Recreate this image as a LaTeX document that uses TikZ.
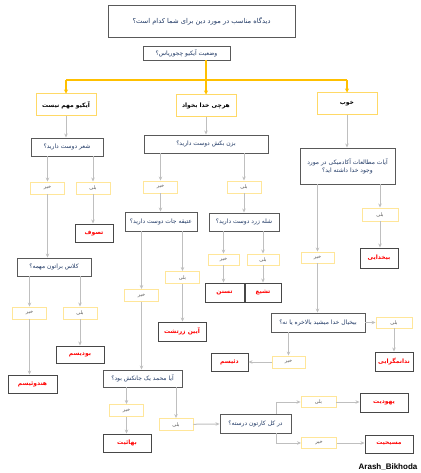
\documentclass[tikz,border=0pt]{standalone}
\usepackage{fontspec}
\usetikzlibrary{arrows.meta,positioning}
\TeXXeTstate=1
\newfontfamily\fafont[Script=Arabic]{DejaVu Sans}
\setsansfont{Liberation Sans}
\newcommand{\fatxt}[1]{\beginR #1\endR}
\definecolor{qnavy}{RGB}{31,56,100}
\definecolor{qborder}{RGB}{89,89,89}
\definecolor{ynborder}{RGB}{255,230,153}
\definecolor{brborder}{RGB}{255,217,102}
\definecolor{linegray}{RGB}{191,191,191}
\definecolor{brorange}{RGB}{255,192,0}

\begin{document}
\begin{tikzpicture}[x=1pt,y=-1pt,
    sz/.style 2 args={minimum width=#1,minimum height=#2},
    question/.style={draw=qborder,line width=0.9pt,fill=white,text=qnavy,inner sep=1pt,
        align=center,font=\fafont\fontsize{6}{8}\selectfont},
    branch/.style={draw=brborder,line width=1pt,fill=white,text=black,inner sep=1pt,
        font=\fafont\bfseries\fontsize{6}{8}\selectfont},
    yesno/.style={draw=ynborder,line width=0.9pt,fill=white,text=qborder,inner sep=1pt,
        sz={34}{12},font=\fafont\fontsize{5}{6}\selectfont},
    answer/.style={draw=qborder!80!black,line width=0.9pt,fill=white,text=red,inner sep=1pt,
        font=\fafont\bfseries\fontsize{6}{8}\selectfont},
    link/.style={draw=linegray,line width=1pt,-{Stealth[length=4pt,width=3.5pt]}},
    orangelink/.style={draw=brorange,line width=1.2pt,-{Stealth[length=4pt,width=4pt]}}]
  \useasboundingbox (0,0) rectangle (420,473);

  % title and first question
  \node[question,sz={187}{32},font=\fafont\fontsize{6.7}{8}\selectfont] (title) at (201.5,21) {\fatxt{دیدگاه مناسب در مورد دین برای شما کدام است؟}};
  \node[question,sz={87}{14}] (iq) at (186.5,53) {\fatxt{وضعیت آیکیو چجوریاس؟}};

  % three branches
  \node[branch,sz={60}{22}] (dontcare) at (66,105) {\fatxt{آیکیو مهم نیست}};
  \node[branch,sz={60}{22}] (godwills) at (206,106) {\fatxt{هرچی خدا بخواد}};
  \node[branch,sz={60}{22}] (good) at (347,104) {\fatxt{خوب}};
  \coordinate (fork) at (206,80);
  \draw[orangelink,-] (fork -| dontcare) -- (fork -| good);
  \draw[orangelink] (iq.south -| godwills) -- (godwills.north);
  \draw[orangelink] (fork -| dontcare) -- (dontcare.north);
  \draw[orangelink] (fork -| good) -- (good.north);

  % left column
  \node[question,sz={72}{18}] (poetry) at (67,147) {\fatxt{شعر دوست دارید؟}};
  \node[yesno] (poetryno) at (47.5,188) {\fatxt{خیر}};
  \node[yesno] (poetryyes) at (93,188) {\fatxt{بلی}};
  \node[answer,sz={38}{18}] (sufism) at (94,233) {\fatxt{تصوف}};
  \node[question,sz={74}{18}] (class) at (54,267) {\fatxt{کلاس براتون مهمه؟}};
  \node[yesno] (classno) at (29.5,313) {\fatxt{خیر}};
  \node[yesno] (classyes) at (80,313) {\fatxt{بلی}};
  \node[answer,sz={48}{17}] (buddhism) at (80,354.5) {\fatxt{بودیسم}};
  \node[answer,sz={49}{18}] (hinduism) at (32.5,384) {\fatxt{هندوئیسم}};

  \draw[link] (dontcare) -- (dontcare |- poetry.north);
  \draw[link] (poetry.south -| poetryno) -- (poetryno);
  \draw[link] (poetry.south -| poetryyes) -- (poetryyes);
  \draw[link] (poetryyes) -- (poetryyes |- sufism.north);
  \draw[link] (poetryno) -- (poetryno |- class.north);
  \draw[link] (class.south -| classno) -- (classno);
  \draw[link] (class.south -| classyes) -- (classyes);
  \draw[link] (classyes) -- (buddhism);
  \draw[link] (classno) -- (classno |- hinduism.north);

  % middle column
  \node[question,sz={124}{18}] (fight) at (206,144) {\fatxt{بزن بکش دوست دارید؟}};
  \node[yesno] (fightno) at (160.5,187) {\fatxt{خیر}};
  \node[yesno] (fightyes) at (244,187) {\fatxt{بلی}};
  \node[question,sz={72}{19}] (antique) at (161,221.5) {\fatxt{عتیقه جات دوست دارید؟}};
  \node[question,sz={70}{18}] (sholeh) at (244,222) {\fatxt{شله زرد دوست دارید؟}};
  \node[yesno] (antiqueyes) at (182.5,277.5) {\fatxt{بلی}};
  \node[yesno] (antiqueno) at (141.5,295.5) {\fatxt{خیر}};
  \node[answer,sz={48}{19}] (zoroaster) at (182,331.5) {\fatxt{آیین زرتشت}};
  \node[yesno,sz={31}{11}] (sholehno) at (223.5,259.5) {\fatxt{خیر}};
  \node[yesno,sz={32}{11}] (sholehyes) at (263,259.5) {\fatxt{بلی}};
  \node[answer,sz={39}{19}] (sunni) at (224.5,292.5) {\fatxt{تسنن}};
  \node[answer,sz={36}{19}] (shia) at (263,292.5) {\fatxt{تشیع}};

  \draw[link] (godwills) -- (godwills |- fight.north);
  \draw[link] (fight.south -| fightno) -- (fightno);
  \draw[link] (fight.south -| fightyes) -- (fightyes);
  \draw[link] (fightno) -- (fightno |- antique.north);
  \draw[link] (fightyes) -- (fightyes |- sholeh.north);
  \draw[link] (antique.south -| antiqueyes) -- (antiqueyes);
  \draw[link] (antique.south -| antiqueno) -- (antiqueno);
  \draw[link] (antiqueyes) -- (antiqueyes |- zoroaster.north);
  \draw[link] (sholeh.south -| sholehno) -- (sholehno);
  \draw[link] (sholeh.south -| sholehyes) -- (sholehyes);
  \draw[link] (sholehno) -- (sholehno |- sunni.north);
  \draw[link] (sholehyes) -- (sholehyes |- shia.north);

  % bottom middle
  \node[question,sz={79}{17}] (muhammad) at (142.5,378.5) {\fatxt{آیا محمد یک جانکش بود؟}};
  \node[yesno] (muhammadno) at (126.5,410.5) {\fatxt{خیر}};
  \node[answer,sz={48}{18}] (bahai) at (127,443) {\fatxt{بهائیت}};
  \node[yesno] (muhammadyes) at (176,424.5) {\fatxt{بلی}};
  \node[question,sz={71}{19}] (right) at (255.5,423.5) {\fatxt{در کل کارتون درسته؟}};
  \node[yesno,sz={35}{11}] (rightyes) at (318.5,402) {\fatxt{بلی}};
  \node[yesno,sz={35}{11}] (rightno) at (319,443) {\fatxt{خیر}};
  \node[answer,sz={48}{19}] (judaism) at (384,402.5) {\fatxt{یهودیت}};
  \node[answer,sz={48}{18}] (christianity) at (389,444) {\fatxt{مسیحیت}};

  \draw[link] (antiqueno) -- (antiqueno |- muhammad.north);
  \draw[link] (muhammad.south -| muhammadno) -- (muhammadno);
  \draw[link] (muhammadno) -- (muhammadno |- bahai.north);
  \draw[link] (muhammad.south -| muhammadyes) -- (muhammadyes);
  \draw[link] (muhammadyes) -- (right);
  \draw[link] ([xshift=-14.5pt]right.north east) |- (rightyes);
  \draw[link] ([xshift=-14.5pt]right.south east) |- (rightno);
  \draw[link] (rightyes) -- (rightyes -| judaism.west);
  \draw[link] (rightno) -- (rightno -| christianity.west);

  % right column
  \node[question,sz={95}{36}] (academic) at (347.5,166) {\fatxt{آیات مطالعات آکادمیکی در مورد}\\\fatxt{وجود خدا داشته اید؟}};
  \node[yesno,sz={36}{13}] (academicyes) at (380,214.5) {\fatxt{بلی}};
  \node[answer,sz={38}{20}] (atheism) at (379,258) {\fatxt{بیخدایی}};
  \node[yesno,sz={33}{11}] (academicno) at (317.5,257.5) {\fatxt{خیر}};
  \node[question,sz={94}{19}] (giveup) at (318,322.5) {\fatxt{بیخیال خدا میشید بالاخره یا نه؟}};
  \node[yesno,sz={36}{11}] (giveupyes) at (394,322.5) {\fatxt{بلی}};
  \node[answer,sz={38}{19}] (agnostic) at (394,361.5) {\fatxt{ندانمگرایی}};
  \node[yesno,sz={33}{12}] (giveupno) at (288.5,362) {\fatxt{خیر}};
  \node[answer,sz={37}{18}] (deism) at (229.5,362) {\fatxt{دئیسم}};

  \draw[link] (good) -- (good |- academic.north);
  \draw[link] (academic.south -| academicyes) -- (academicyes);
  \draw[link] (academicyes) -- (academicyes |- atheism.north);
  \draw[link] (academic.south -| academicno) -- (academicno);
  \draw[link] (academicno) -- (academicno |- giveup.north);
  \draw[link] (giveup) -- (giveupyes);
  \draw[link] (giveupyes) -- (agnostic);
  \draw[link] (giveup.south -| giveupno) -- (giveupno);
  \draw[link] (giveupno) -- (deism);

  % signature
  \node[font=\sffamily\bfseries\fontsize{8}{9}\selectfont] (sign) at (388,467) {Arash\_Bikhoda};
\end{tikzpicture}
\end{document}
